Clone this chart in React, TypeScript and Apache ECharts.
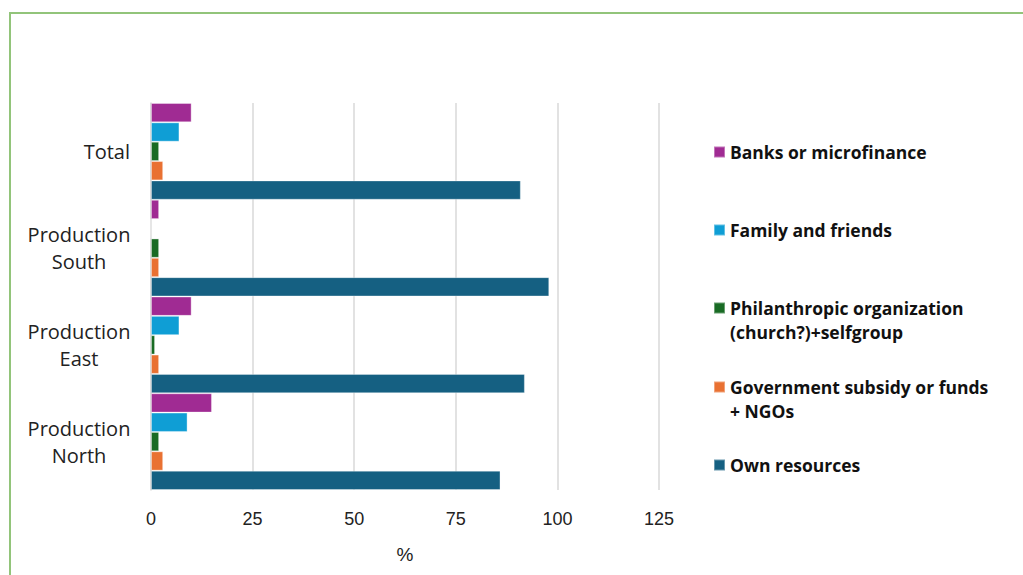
import React, { useEffect, useRef } from "react";
import * as echarts from "echarts";

const categories = ["Total", "Production South", "Production East", "Production North"];
const seriesNames = [
  "Banks or microfinance",
  "Family and friends",
  "Philanthropic organization (church?)+selfgroup",
  "Government subsidy or funds + NGOs",
  "Own resources",
];
const legendLabels = [
  "Banks or microfinance",
  "Family and friends",
  "\nPhilanthropic organization\n(church?)+selfgroup",
  "\nGovernment subsidy or funds\n+ NGOs",
  "Own resources",
];
const banks = [10, 2, 10, 15];
const family = [7, 0, 7, 9];
const philanthropic = [2, 2, 1, 2];
const government = [3, 2, 2, 3];
const own = [91, 98, 92, 86];
const seriesValues = [banks, family, philanthropic, government, own];
const colors = ["#a02b93", "#0f9ed5", "#196b24", "#e97132", "#156082"];
const xTicks = { min: 0, max: 125, interval: 25 };

const legendIconY = [152, 230, 308, 387, 465];

export default function App() {
  const ref = useRef<HTMLDivElement>(null);
  useEffect(() => {
    if (!ref.current) return;
    const chart = echarts.init(ref.current, null, { renderer: "svg" });
    const legends = seriesNames.map((name, i) => {
      const multi = legendLabels[i].startsWith("\n");
      return {
        data: [name],
        orient: "vertical",
        left: 713,
        top: legendIconY[i] - (multi ? 36 : 12),
        padding: 0,
        itemWidth: 11,
        itemHeight: 11,
        icon: "rect",
        selectedMode: false,
        formatter: () => legendLabels[i],
        textStyle: {
          fontFamily: "Open Sans",
          fontWeight: "bold",
          fontSize: 17.5,
          lineHeight: 24,
          color: "#111",
        },
      };
    });
    chart.setOption({
      animation: false,
      color: colors,
      graphic: [
        {
          type: "rect",
          shape: { x: 10, y: 13, width: 1100, height: 700 },
          style: { fill: "none", stroke: "#92c47a", lineWidth: 2 },
          silent: true,
        },
      ],
      legend: legends,
      grid: { left: 151, right: 364, top: 103, bottom: 85, containLabel: false },
      xAxis: {
        type: "value",
        min: xTicks.min,
        max: xTicks.max,
        interval: xTicks.interval,
        name: "%",
        nameLocation: "middle",
        nameGap: 55,
        nameTextStyle: { fontFamily: "Liberation Sans", fontSize: 19, color: "#222" },
        axisLine: { show: false },
        axisTick: { show: false },
        axisLabel: { fontFamily: "Liberation Sans", fontSize: 18, color: "#222", margin: 20 },
        splitLine: { lineStyle: { color: "#d9d9d9", width: 1.5 } },
      },
      yAxis: {
        type: "category",
        inverse: true,
        data: categories,
        axisLine: { show: true, lineStyle: { color: "#d9d9d9", width: 1.5 } },
        axisTick: { show: false },
        axisLabel: {
          margin: 21,
          align: "right",
          formatter: (v: string) => {
            const parts = v.split(" ");
            if (parts.length === 1) return `{s|${v}}`;
            return parts.map((p) => `{p|${p}}`).join("\n");
          },
          rich: {
            s: { fontFamily: "Open Sans", fontSize: 20, color: "#222", lineHeight: 27 },
            p: { fontFamily: "Open Sans", fontSize: 20, color: "#222", lineHeight: 27, width: 102, align: "center" },
          },
        },
      },
      series: seriesNames.map((name, i) => ({
        name,
        type: "bar",
        data: seriesValues[i],
        barGap: "0%",
        barCategoryGap: "0%",
        itemStyle: { color: colors[i], borderColor: "rgba(255,255,255,0.35)", borderWidth: 1 },
      })),
    });
    return () => chart.dispose();
  }, []);
  return (
    <div
      ref={ref}
      style={{ position: "fixed", left: 0, top: 0, width: 1023, height: 575, background: "#fff" }}
    />
  );
}
